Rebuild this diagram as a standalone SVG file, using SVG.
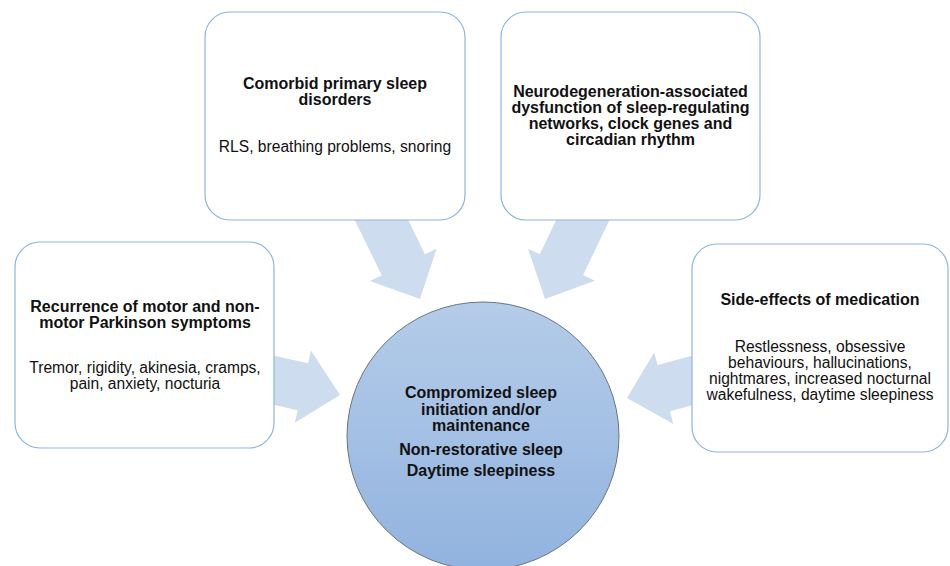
<svg xmlns="http://www.w3.org/2000/svg" width="950" height="566" viewBox="0 0 950 566">
<defs>
<linearGradient id="cg" x1="0" y1="0" x2="0" y2="1">
<stop offset="0" stop-color="#b5cce9"/>
<stop offset="1" stop-color="#91b3df"/>
</linearGradient>
<polygon id="arr" points="0,0 -38,-37 -38,-24 -110,-24 -110,24 -38,24 -38,37"/>
</defs>
<style>
.box{fill:#fff;stroke:#8fb4e3;stroke-width:1.2}
.arrow{fill:#cddcef}
text{font-family:"Liberation Sans",Arial,sans-serif;font-size:15.6px;fill:#111;text-anchor:middle}
.b{font-weight:bold;font-size:16px}
</style>
<rect width="950" height="566" fill="#fff"/>
<g id="connectors">
<use href="#arr" class="arrow" transform="translate(340,395) rotate(12.6)"/>
<use href="#arr" class="arrow" transform="translate(420,299) rotate(64)"/>
<use href="#arr" class="arrow" transform="translate(545,299) rotate(115.6)"/>
<use href="#arr" class="arrow" transform="translate(627,398) rotate(165)"/>
</g>
<g id="left">
<rect class="box" x="15" y="242" width="259" height="206" rx="25"/>
<text class="b" x="145" y="312">Recurrence of motor and non-</text>
<text class="b" x="145" y="328">motor Parkinson symptoms</text>
<text x="145" y="373">Tremor, rigidity, akinesia, cramps,</text>
<text x="145" y="389">pain, anxiety, nocturia</text>
</g>
<g id="top-left">
<rect class="box" x="205" y="12" width="260" height="208" rx="25"/>
<text class="b" x="335" y="89">Comorbid primary sleep</text>
<text class="b" x="335" y="105">disorders</text>
<text x="335" y="152">RLS, breathing problems, snoring</text>
</g>
<g id="top-right">
<rect class="box" x="501" y="12" width="259" height="208" rx="25"/>
<text class="b" x="630.5" y="97">Neurodegeneration-associated</text>
<text class="b" x="630.5" y="113">dysfunction of sleep-regulating</text>
<text class="b" x="630.5" y="129">networks, clock genes and</text>
<text class="b" x="630.5" y="145">circadian rhythm</text>
</g>
<g id="right">
<rect class="box" x="692" y="244" width="256" height="208" rx="25"/>
<text class="b" x="820" y="305">Side-effects of medication</text>
<text x="820" y="352">Restlessness, obsessive</text>
<text x="820" y="368">behaviours, hallucinations,</text>
<text x="820" y="384">nightmares, increased nocturnal</text>
<text x="820" y="400">wakefulness, daytime sleepiness</text>
</g>
<g id="center">
<ellipse cx="483" cy="436" rx="136" ry="134" fill="url(#cg)" stroke="#6a7584" stroke-width="1"/>
<text class="b" x="481" y="398">Compromized sleep</text>
<text class="b" x="481" y="415">initiation and/or</text>
<text class="b" x="481" y="431">maintenance</text>
<text class="b" x="481" y="455">Non-restorative sleep</text>
<text class="b" x="481" y="476">Daytime sleepiness</text>
</g>
</svg>
